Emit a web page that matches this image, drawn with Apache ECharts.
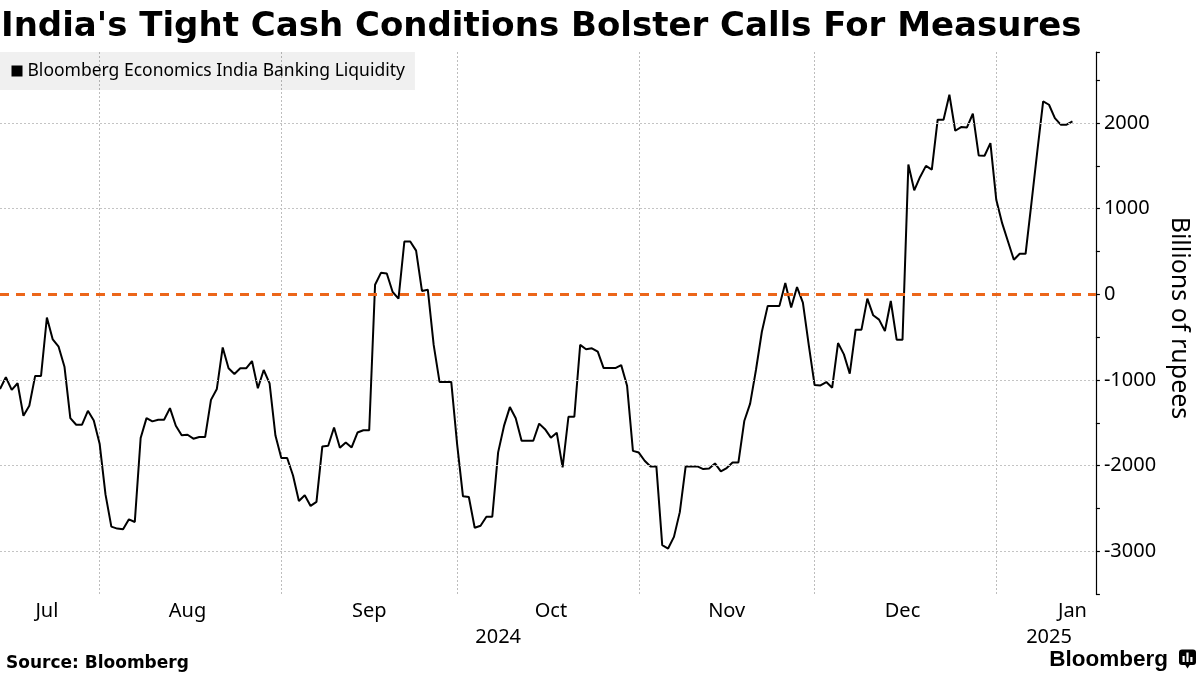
<!DOCTYPE html>
<html>
<head>
<meta charset="utf-8">
<script src="https://cdn.jsdelivr.net/npm/echarts@6/dist/echarts.min.js"></script>
<style>
html,body{margin:0;padding:0;background:#fff;}
#chart{width:1200px;height:675px;}
</style>
</head>
<body>
<div id="chart"></div>
<script>
// ---- data ----
const firstDay = '2024-07-15';
const lastDay = '2025-01-18';
const seriesName = 'Bloomberg Economics India Banking Liquidity';
// daily values, billions of rupees, from 2024-07-15 to 2025-01-14
const liquidity = [
  -1105,-969,-1116,-1039,-1419,-1302,-953,-953,-271,-527,
  -612,-845,-1446,-1523,-1523,-1360,-1473,-1744,-2337,-2713,
  -2736,-2744,-2628,-2659,-1678,-1446,-1484,-1465,-1465,-1329,
  -1535,-1647,-1640,-1686,-1667,-1667,-1233,-1105,-620,-864,
  -930,-864,-864,-779,-1097,-884,-1040,-1650,-1911,-1911,
  -2116,-2413,-2347,-2471,-2425,-1776,-1768,-1556,-1792,-1730,
  -1788,-1614,-1587,-1587,112,251,243,27,-50,617,
  617,510,39,54,-591,-1023,-1023,-1023,-1750,-2359,
  -2367,-2726,-2703,-2598,-2598,-1846,-1537,-1317,-1448,-1710,
  -1710,-1710,-1510,-1575,-1674,-1616,-2022,-1430,-1430,-591,
  -642,-630,-669,-862,-862,-862,-827,-1067,-1828,-1848,
  -1944,-2010,-2010,-2930,-2969,-2833,-2544,-2010,-2010,-2010,
  -2041,-2033,-1975,-2068,-2029,-1964,-1964,-1480,-1276,-881,
  -437,-135,-135,-135,131,-155,85,-97,-590,-1060,
  -1064,-1025,-1091,-569,-701,-927,-413,-413,-51,-245,
  -296,-429,-78,-530,-530,1515,1215,1371,1500,1457,
  2039,2039,2331,1910,1953,1949,2109,1622,1618,1766,
  1104,831,617,403,473,473,1065,1669,2253,2214,
  2058,1981,1981,2019
];
const monthLabelDates = ['2024-07-23','2024-08-16','2024-09-16','2024-10-17','2024-11-16','2024-12-16','2025-01-14'];
const monthLabelText  = ['Jul','Aug','Sep','Oct','Nov','Dec','Jan'];
const yearLabelDates  = ['2024-10-08','2025-01-10'];
const yearLabelText   = ['2024','2025'];
const monthStartDates = ['2024-08-01','2024-09-01','2024-10-01','2024-11-01','2024-12-01','2025-01-01'];
const yGridValues = [-3000,-2000,-1000,1000,2000];
const zeroValue = 0;

// ---- build categories (one per calendar day) ----
function dayList(a, b) {
  const out = [];
  let t = Date.parse(a + 'T00:00:00Z');
  const end = Date.parse(b + 'T00:00:00Z');
  while (t <= end) { out.push(new Date(t).toISOString().slice(0, 10)); t += 86400000; }
  return out;
}
const days = dayList(firstDay, lastDay);
const monthMap = {}; monthLabelDates.forEach((d, i) => monthMap[d] = monthLabelText[i]);
const yearMap = {};  yearLabelDates.forEach((d, i) => yearMap[d] = yearLabelText[i]);
const gridSet = new Set(monthStartDates);

const chart = echarts.init(document.getElementById('chart'), null, {renderer: 'canvas'});
const labelFont = '"Noto Sans", sans-serif';

const option = {
  animation: false,
  backgroundColor: '#fff',
  grid: {left: 0, right: 102, top: 52, bottom: 81, containLabel: false},
  legend: {
    show: true,
    left: 0, top: 52,
    padding: [10, 10, 10, 11.5],
    backgroundColor: 'rgba(0,0,0,0.06)',
    icon: 'rect', itemWidth: 11, itemHeight: 11,
    selectedMode: false,
    data: [seriesName],
    textStyle: {fontFamily: labelFont, fontSize: 17.5, color: '#000'}
  },
  xAxis: [{
    type: 'category', data: days, boundaryGap: false, position: 'bottom',
    axisLine: {show: false}, axisTick: {show: false},
    axisLabel: {
      interval: (i, v) => monthMap[v] !== undefined,
      formatter: v => monthMap[v] || '',
      fontFamily: labelFont, fontSize: 20, color: '#000', margin: 7.6
    },
    splitLine: {
      show: true,
      interval: (i, v) => gridSet.has(v),
      lineStyle: {color: '#bdbdbd', type: [2, 2], width: 1}
    }
  }, {
    type: 'category', data: days, boundaryGap: false, position: 'bottom', offset: 25.4,
    axisLine: {show: false}, axisTick: {show: false}, splitLine: {show: false},
    axisLabel: {
      interval: (i, v) => yearMap[v] !== undefined,
      formatter: v => yearMap[v] || '',
      fontFamily: labelFont, fontSize: 20, color: '#000', margin: 7.6
    }
  }],
  yAxis: {
    type: 'value', position: 'right',
    min: -3500, max: 2830, interval: 500,
    axisLine: {show: true, lineStyle: {color: '#000', width: 1.2}},
    axisTick: {show: true, length: 4, lineStyle: {color: '#000', width: 1.2}},
    axisLabel: {
      formatter: v => (v % 1000 === 0 ? String(v) : ''),
      fontFamily: labelFont, fontSize: 20, color: '#000', margin: 8,
      padding: [4, 0, 0, 0]
    },
    splitLine: {show: false},
    name: 'Billions of rupees',
    nameLocation: 'middle', nameRotate: -90, nameGap: 71,
    nameTextStyle: {fontFamily: labelFont, fontSize: 25, color: '#000', padding: [0, 10, 0, 0]}
  },
  series: [{
    name: seriesName,
    type: 'line',
    data: liquidity,
    symbol: 'none',
    color: '#000',
    lineStyle: {color: '#000', width: 2},
    z: 3,
    markLine: {
      silent: true, symbol: ['none', 'none'], animation: false,
      label: {show: false},
      data: yGridValues.map(v => ({yAxis: v, lineStyle: {color: '#c4c4c4', type: [2, 2], width: 1}}))
        .concat([{yAxis: zeroValue, lineStyle: {color: '#ec661a', type: [9, 7], width: 3}}])
    }
  }],
  graphic: [
    {type: 'text', x: 1, y: 27.2, silent: true,
     style: {text: "India's Tight Cash Conditions Bolster Calls For Measures",
             font: 'bold 34px "DejaVu Sans", sans-serif', fill: '#000',
             textAlign: 'left', textVerticalAlign: 'middle'}},
    {type: 'text', x: 6, y: 663.9, silent: true,
     style: {text: 'Source: Bloomberg', font: 'bold 17px "DejaVu Sans", sans-serif', fill: '#000',
             textAlign: 'left', textVerticalAlign: 'middle'}},
    {type: 'text', x: 1168, y: 659.5, silent: true,
     style: {text: 'Bloomberg', font: 'bold 22.5px "Liberation Sans", sans-serif', fill: '#000',
             textAlign: 'right', textVerticalAlign: 'middle'}},
    {type: 'group', silent: true, children: [
      {type: 'rect', shape: {x: 1179, y: 649.5, width: 17, height: 15.5, r: 3}, style: {fill: '#000'}},
      {type: 'polygon', shape: {points: [[1185, 664.5], [1190, 664.5], [1187.5, 668.5]]}, style: {fill: '#000'}},
      {type: 'rect', shape: {x: 1182.5, y: 656, width: 2.2, height: 6}, style: {fill: '#fff'}},
      {type: 'rect', shape: {x: 1186.4, y: 652.5, width: 2.2, height: 9.5}, style: {fill: '#fff'}},
      {type: 'rect', shape: {x: 1190.3, y: 657, width: 2.2, height: 5}, style: {fill: '#fff'}}
    ]}
  ]
};
chart.setOption(option);
</script>
</body>
</html>
